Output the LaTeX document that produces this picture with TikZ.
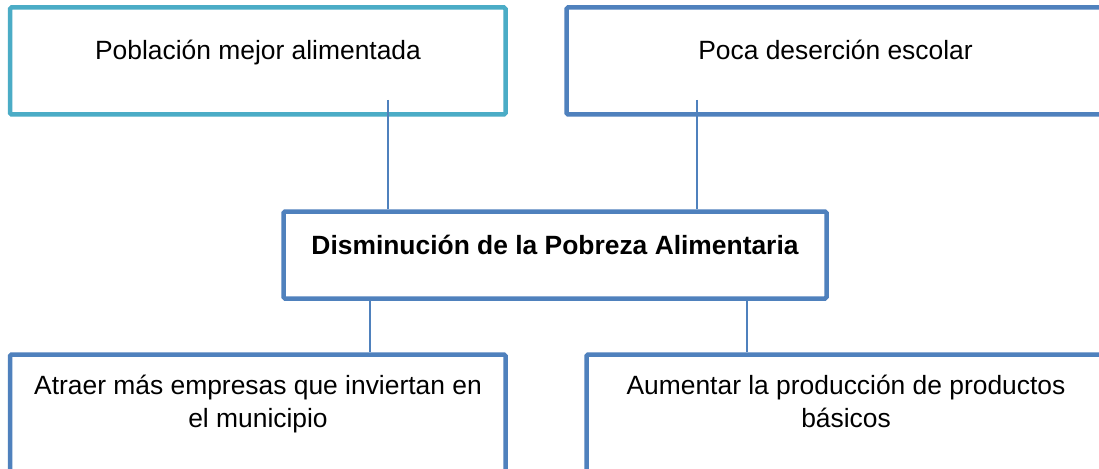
\documentclass[tikz,border=0pt]{standalone}
\usepackage{fontspec}
\setmainfont{Liberation Sans}
\definecolor{tealbox}{HTML}{4BACC6}
\definecolor{bluebox}{HTML}{4F81BD}
\begin{document}
\begin{tikzpicture}[x=1pt,y=-1pt,
  box/.style={draw=bluebox, line width=4.5pt, rounded corners=1.5pt, rectangle, inner sep=0pt, fill=white},
  lbl/.style={anchor=north, inner sep=0pt, align=center, font=\fontsize{26.4}{32.8}\selectfont},
  conn/.style={draw=bluebox, line width=1.5pt}]
\useasboundingbox (0,0) rectangle (1099,468);
\clip (0,0) rectangle (1099,468);
\fill[white] (0,0) rectangle (1099,468);
% boxes
\node[box, draw=tealbox, minimum width=495.5pt, minimum height=107pt] (b1) at (257.75,61) {};
\node[box, minimum width=538.5pt, minimum height=107pt] (b2) at (835.75,61) {};
\node[box, minimum width=543pt, minimum height=87pt] (mid) at (555,255) {};
\node[box, minimum width=495.5pt, minimum height=135.5pt] (b3) at (257.75,422.25) {};
\node[box, minimum width=519pt, minimum height=135.5pt] (b4) at (846,422.25) {};
% texts
\node[lbl] (t1) at (258,38.3) {\rule{0pt}{21pt}Población mejor alimentada};
\node[lbl] (t2) at (835.5,38.3) {\rule{0pt}{21pt}Poca deserción escolar};
\node[lbl, font=\fontsize{26.4}{32.8}\selectfont\bfseries] (tm) at (555,233) {\rule{0pt}{21pt}Disminución de la Pobreza Alimentaria};
\node[lbl] (t3) at (258,373.5) {\rule{0pt}{21pt}Atraer más empresas que inviertan en\\el municipio};
\node[lbl] (t4) at (846,373.5) {\rule{0pt}{21pt}Aumentar la producción de productos\\básicos};
% connectors
\coordinate (c1) at (388,100);
\coordinate (c2) at (697,100);
\coordinate (d1) at (370,0);
\coordinate (d2) at (747,0);
\draw[conn] (c1) -- (c1 |- mid.north);
\draw[conn] (c2) -- (c2 |- mid.north);
\draw[conn] (d1 |- mid.south) -- (d1 |- b3.north);
\draw[conn] (d2 |- mid.south) -- (d2 |- b4.north);
\end{tikzpicture}
\end{document}
